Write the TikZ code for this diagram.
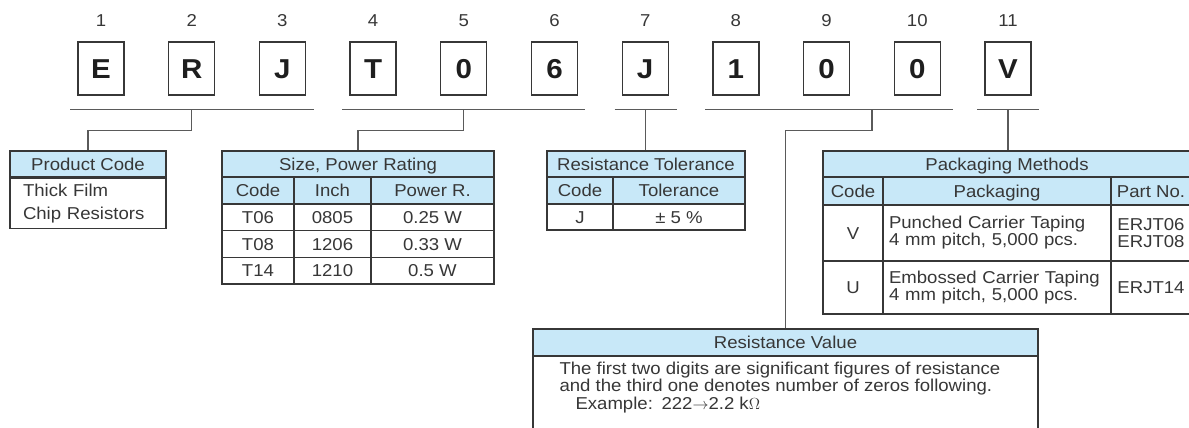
\documentclass[tikz,border=0pt]{standalone}
\usepackage{fontspec}
\setmainfont{Liberation Sans}[FakeStretch=1.08]
\usetikzlibrary{calc}

\definecolor{headblue}{RGB}{200,232,248}
\definecolor{inkgray}{RGB}{55,55,55}
\definecolor{wiregray}{RGB}{90,90,90}
\newcommand{\pxu}{0.75pt}
\newcommand{\txtfont}{\fontsize{12.9}{15}\selectfont}

\tikzset{every picture/.style={line width=0.75pt}}
\tikzset{
  numlabel/.style={font=\txtfont, text=inkgray, inner sep=0pt, text height=9.2pt, text depth=0pt},
  codebox/.style={draw=inkgray, line width=1pt, minimum width=46*\pxu, minimum height=53*\pxu, inner sep=0pt,
    font=\fontsize{20.5}{24}\selectfont\bfseries, text={rgb,255:red,30;green,30;blue,30}, text height=14.7pt, text depth=0pt},
  cellsize/.style 2 args={minimum width=#1*\pxu, minimum height=#2*\pxu},
  cellbase/.style={draw=inkgray, line width=1.1pt, inner sep=0pt, font=\txtfont, text=inkgray},
  headcell/.style={cellbase, fill=headblue, text height=9.2pt, text depth=0pt},
  bodycell/.style={cellbase, fill=white, text height=9.2pt, text depth=0pt},
  tallcell/.style={cellbase, fill=white},
  bracket/.style={draw=wiregray, line width=1pt},
  wire/.style={draw=wiregray, line width=1pt}
}

\begin{document}
\begin{tikzpicture}[x=0.75pt,y=0.75pt,yscale=-1,xscale=1]
\useasboundingbox (0,0) rectangle (1189,428);

% Text Node
\node [numlabel] (n1) at (101,20.5) {1};
% Text Node
\node [numlabel] (n2) at (191.7,20.5) {2};
% Text Node
\node [numlabel] (n3) at (282.4,20.5) {3};
% Text Node
\node [numlabel] (n4) at (373.1,20.5) {4};
% Text Node
\node [numlabel] (n5) at (463.8,20.5) {5};
% Text Node
\node [numlabel] (n6) at (554.5,20.5) {6};
% Text Node
\node [numlabel] (n7) at (645.2,20.5) {7};
% Text Node
\node [numlabel] (n8) at (735.9,20.5) {8};
% Text Node
\node [numlabel] (n9) at (826.6,20.5) {9};
% Text Node
\node [numlabel] (n10) at (917.3,20.5) {10};
% Text Node
\node [numlabel] (n11) at (1008,20.5) {11};

%Shape: Square
\node [codebox] (c1) at (101,68.5) {E};
%Shape: Square
\node [codebox] (c2) at (191.7,68.5) {R};
%Shape: Square
\node [codebox] (c3) at (282.4,68.5) {J};
%Shape: Square
\node [codebox] (c4) at (373.1,68.5) {T};
%Shape: Square
\node [codebox] (c5) at (463.8,68.5) {0};
%Shape: Square
\node [codebox] (c6) at (554.5,68.5) {6};
%Shape: Square
\node [codebox] (c7) at (645.2,68.5) {J};
%Shape: Square
\node [codebox] (c8) at (735.9,68.5) {1};
%Shape: Square
\node [codebox] (c9) at (826.6,68.5) {0};
%Shape: Square
\node [codebox] (c10) at (917.3,68.5) {0};
%Shape: Square
\node [codebox] (c11) at (1008,68.5) {V};

%Table: Product Code
\node [headcell, cellsize={156}{26}] (pchead) at (88,164) {Product Code};
\node [tallcell, cellsize={156}{50}, text width=97.5pt, align=left, font=\fontsize{12.9}{17.25}\selectfont] (pcbody) at (88,203.5) {Thick Film\\Chip Resistors};

%Table: Size, Power Rating
\node [headcell, cellsize={272}{26}] (szhead) at (358,164) {Size, Power Rating};
\node [headcell, cellsize={72}{26.8}] (szcode) at (258,190.4) {Code};
\node [headcell, cellsize={77}{26.8}] (szinch) at (332.5,190.4) {Inch};
\node [headcell, cellsize={123}{26.8}] (szpower) at (432.5,190.4) {Power R.};
\node [bodycell, cellsize={72}{26.8}] (szta) at (258,217.2) {T06};
\node [bodycell, cellsize={77}{26.8}] (szia) at (332.5,217.2) {0805};
\node [bodycell, cellsize={123}{26.8}] (szpa) at (432.5,217.2) {0.25 W};
\node [bodycell, cellsize={72}{26.8}] (sztb) at (258,244) {T08};
\node [bodycell, cellsize={77}{26.8}] (szib) at (332.5,244) {1206};
\node [bodycell, cellsize={123}{26.8}] (szpb) at (432.5,244) {0.33 W};
\node [bodycell, cellsize={72}{26.8}] (sztc) at (258,270.8) {T14};
\node [bodycell, cellsize={77}{26.8}] (szic) at (332.5,270.8) {1210};
\node [bodycell, cellsize={123}{26.8}] (szpc) at (432.5,270.8) {0.5 W};

%Table: Resistance Tolerance
\node [headcell, cellsize={198}{26}] (tlhead) at (646,164) {Resistance Tolerance};
\node [headcell, cellsize={66}{27}] (tlcode) at (580,190.5) {Code};
\node [headcell, cellsize={132}{27}] (tltol) at (679,190.5) {Tolerance};
\node [bodycell, cellsize={66}{26}] (tlj) at (580,217) {J};
\node [bodycell, cellsize={132}{26}] (tlval) at (679,217) {± 5 \%};

%Table: Packaging Methods
\node [headcell, cellsize={368}{26}] (pkhead) at (1007,164) {Packaging Methods};
\node [headcell, cellsize={60}{28}] (pkcode) at (853,191) {Code};
\node [headcell, cellsize={228}{28}] (pkpack) at (997,191) {Packaging};
\node [headcell, cellsize={80}{28}] (pkpart) at (1151,191) {Part No.};
\node [bodycell, cellsize={60}{56}] (pkv) at (853,233) {V};
\node [tallcell, cellsize={228}{56}, text width=162pt, align=left, font=\fontsize{12.9}{12.75}\selectfont] (pkvpack) at (997,233) {Punched Carrier Taping\\4 mm pitch, 5,000 pcs.};
\node [tallcell, cellsize={80}{56}, align=center, font=\fontsize{12.9}{12.75}\selectfont] (pkvpart) at (1151,233) {ERJT06\\ERJT08};
\node [bodycell, cellsize={60}{53}] (pku) at (853,287.5) {U};
\node [tallcell, cellsize={228}{53}, text width=162pt, align=left, font=\fontsize{12.9}{12.75}\selectfont] (pkupack) at (997,287.5) {Embossed Carrier Taping\\4 mm pitch, 5,000 pcs.};
\node [bodycell, cellsize={80}{53}] (pkupart) at (1151,287.5) {ERJT14};

%Table: Resistance Value
\node [headcell, cellsize={505}{27}] (rvhead) at (785.5,342.5) {Resistance Value};
\node [tallcell, cellsize={505}{84}, anchor=north] (rvbody) at (785.5,356) {};
% Text Node
\node [anchor=north west, align=left, inner sep=0pt, text=inkgray, font=\fontsize{12.9}{11.4}\selectfont] (rvtext) at (559,361.5)
  {The first two digits are significant figures of resistance\\and the third one denotes number of zeros following.\\\hspace*{12pt}Example:\enspace 222$\rightarrow$2.2 k$\Omega$};

%Straight Lines: brackets
\coordinate (b1) at ($(c2.south)+(0,14)$);
\coordinate (b2) at ($(c5.south)+(0,14)$);
\coordinate (b3) at ($(c7.south)+(0,14)$);
\coordinate (b4) at ($(c9.south)!0.5!(c10.south)+(0,14)$);
\coordinate (b5) at ($(c11.south)+(0,14)$);
\draw [bracket] ($(c1.south west)+(-7,14)$) -- ($(c3.south east)+(8,14)$);
\draw [bracket] ($(c4.south west)+(-7,14)$) -- ($(c6.south east)+(7,14)$);
\draw [bracket] ($(c7.south west)+(-7,14)$) -- ($(c7.south east)+(8,14)$);
\draw [bracket] ($(c8.south west)+(-7,14)$) -- ($(c10.south east)+(12,14)$);
\draw [bracket] ($(c11.south west)+(-7,14)$) -- ($(c11.south east)+(7,14)$);

%Straight Lines: connectors
\draw [wire] (b1) -- ++(0,21) -| (pchead.north);
\draw [wire] (b2) -- ++(0,21) -| (szhead.north);
\draw [wire] (b3) -- (b3 |- tlhead.north);
\draw [wire] (b4) -- ++(0,21) -| (rvhead.north);
\draw [wire] (b5) -- (b5 |- pkhead.north);

\end{tikzpicture}
\end{document}
